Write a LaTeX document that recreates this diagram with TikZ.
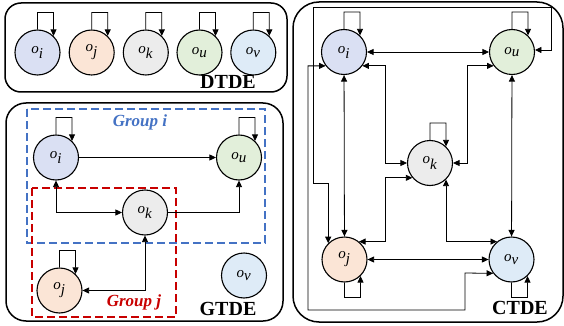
\documentclass[tikz,border=0pt]{standalone}
\usepackage{fontspec}
\setmainfont{Liberation Serif}
\usetikzlibrary{arrows.meta,calc}
\definecolor{ci}{RGB}{218,224,243}
\definecolor{cj}{RGB}{251,229,214}
\definecolor{ck}{RGB}{236,236,236}
\definecolor{cu}{RGB}{226,239,218}
\definecolor{cv}{RGB}{222,235,247}
\definecolor{gblue}{RGB}{68,114,196}
\definecolor{gred}{RGB}{200,0,0}
\newcommand{\ag}[1]{\textit{o}$_{\textit{#1}}$}
\newcommand{\lpT}[1]{\draw[arr] (#1.north) |- ($(#1)+(16,-40)$) -- (#1.46);}
\newcommand{\lpB}[1]{\draw[arr] (#1.south) |- ($(#1)+(16,38)$) -- (#1.-46);}
\begin{document}
\begin{tikzpicture}[x=1pt,y=-1pt,
  agent/.style={circle,draw,line width=1.1pt,minimum size=45pt,inner sep=0pt,font=\fontsize{15}{15}\selectfont},
  arr/.style={line width=0.8pt,-{Triangle[length=6.5pt,width=6pt]}},
  darr/.style={line width=0.8pt,{Triangle[length=6.5pt,width=6pt]}-{Triangle[length=6.5pt,width=6pt]}},
  panel/.style={draw,line width=1.5pt},
  title/.style={font=\fontsize{20}{20}\selectfont\bfseries},
  grp/.style={font=\fontsize{17}{17}\selectfont\bfseries\itshape},
  gbox/.style={line width=1.1pt,dash pattern=on 8pt off 4pt}]
\useasboundingbox (0,0) rectangle (564,326);

% ---------- DTDE ----------
\draw[panel,rounded corners=16pt] (5,3) rectangle (287,92);
\node[agent,fill=ci] (di) at (37.5,52.5) {\ag{i}};
\node[agent,fill=cj] (dj) at (91.7,52.5) {\ag{j}};
\node[agent,fill=ck] (dk) at (145.8,52.5) {\ag{k}};
\node[agent,fill=cu] (du) at (199.5,52.5) {\ag{u}};
\node[agent,fill=cv] (dv) at (253.3,52.5) {\ag{v}};
\lpT{di}\lpT{dj}\lpT{dk}\lpT{du}\lpT{dv}
\node[title] (tD) at (228,82) {DTDE};

% ---------- GTDE ----------
\draw[panel,rounded corners=20pt] (6,103) rectangle (283,321);
\draw[gbox,draw=gblue] (27,109) rectangle (265,243);
\draw[gbox,draw=gred] (32,188) rectangle (176,317);
\node[grp,text=gblue] (gI) at (140,122) {Group i};
\node[grp,text=gred] (gJ) at (134,302) {Group j};
\node[agent,fill=ci] (gi) at (56,157.5) {\ag{i}};
\node[agent,fill=cu] (gu) at (239,157.5) {\ag{u}};
\node[agent,fill=ck] (gk) at (145,212.5) {\ag{k}};
\node[agent,fill=cj] (gj) at (59.5,290.5) {\ag{j}};
\node[agent,fill=cv] (gv) at (244,275.5) {\ag{v}};
\lpT{gi}\lpT{gu}\lpT{gj}
\draw[arr] (gi) -- (gu);
\draw[darr] (gi.south) |- (gk.west);
\draw[arr] (gk.east) -| (gu.south);
\draw[darr] (gk.south) |- (gj.east);
\node[title] (tG) at (228,309) {GTDE};

% ---------- CTDE ----------
\draw[panel,rounded corners=26pt] (293,2) rectangle (563,322);
\node[agent,fill=ci] (ci) at (344,52) {\ag{i}};
\node[agent,fill=cu] (cu) at (512,52) {\ag{u}};
\node[agent,fill=ck] (ck) at (430,163) {\ag{k}};
\node[agent,fill=cj] (cj) at (344.5,259.5) {\ag{j}};
\node[agent,fill=cv] (cv) at (511.5,259.5) {\ag{v}};
\lpT{ci}\lpT{cu}\lpT{ck}\lpB{cj}\lpB{cv}
\coordinate (xL) at (385,0);
\coordinate (xR) at (467,0);
\draw[darr] (ci) -- (cu);
\draw[darr] (ci) -- (cj);
\draw[darr] (cu) -- (cv);
\draw[darr] (cj) -- (cv);
\draw[darr] (ci.-37) -| (xL |- ck.west) -- (ck.west);
\draw[darr] (cu.217) -| (xR |- ck.east) -- (ck.east);
\draw[darr] (ck.220) -| (xL |- cj.51) -- (cj.51);
\draw[darr] (ck.-46) |- (cv.129);
\draw[darr] (ci.217) -| (308,310) -| (465,273) -- (cv.217);
\draw[darr] (cu.5) -| (551,7) -| (313,183) -| (cj.135);
\node[title] (tC) at (520,308) {CTDE};
\end{tikzpicture}
\end{document}
